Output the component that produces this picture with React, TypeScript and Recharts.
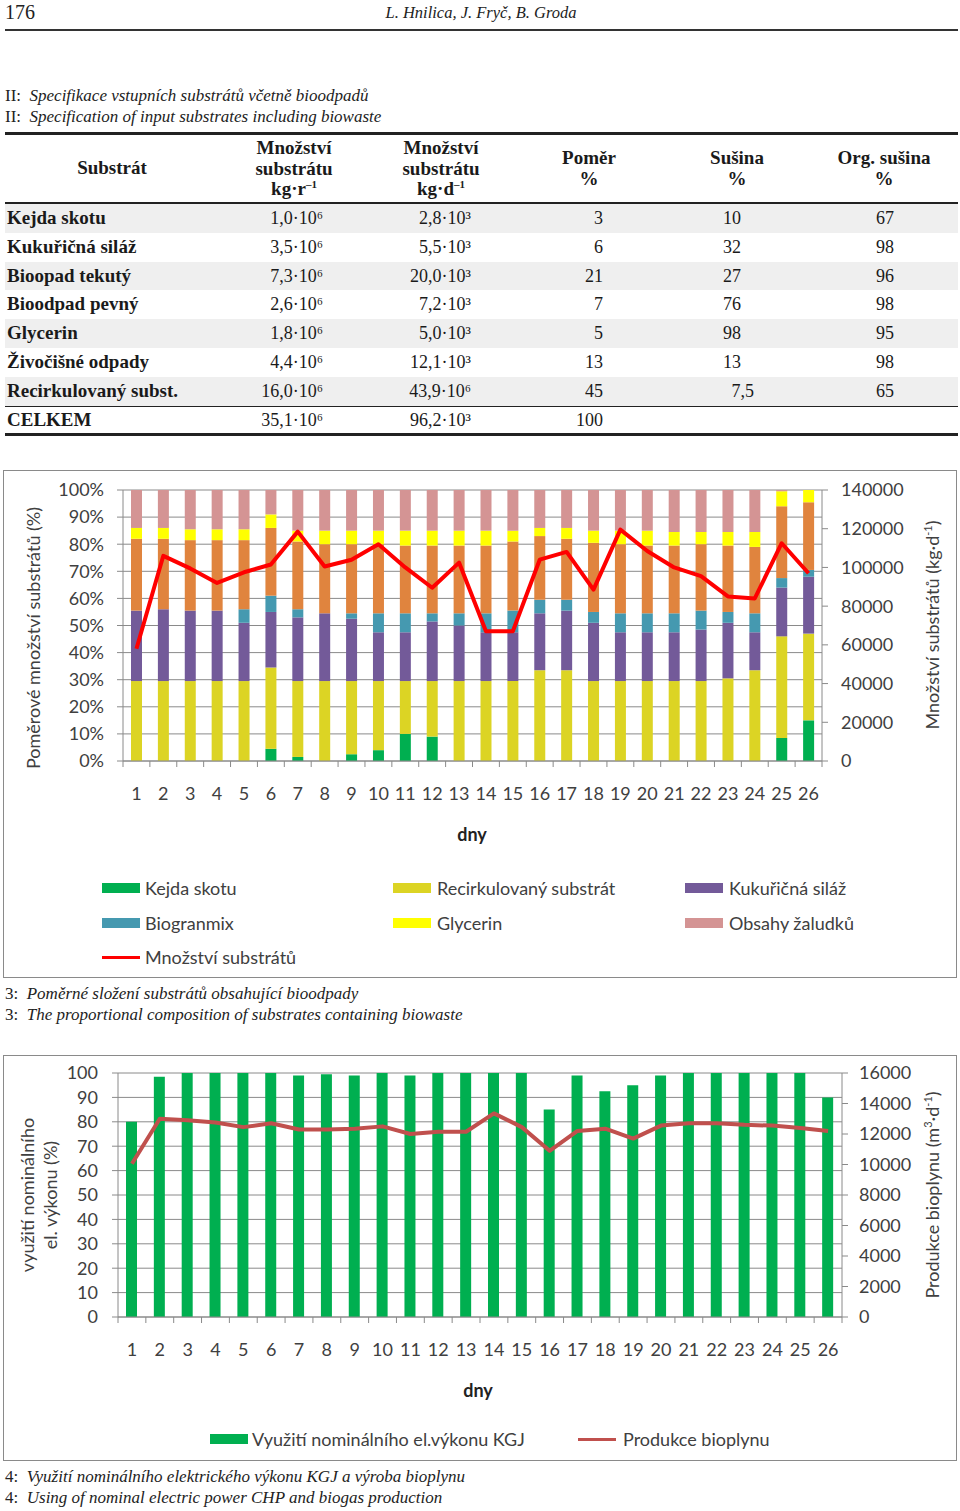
import React from 'react';
import { ComposedChart, Bar, Line, XAxis, YAxis, CartesianGrid } from 'recharts';

// ---------- Table data ----------
const substrateNames = ['Kejda skotu', 'Kukuřičná siláž', 'Bioopad tekutý', 'Bioodpad pevný', 'Glycerin', 'Živočišné odpady', 'Recirkulovaný subst.', 'CELKEM'];
const perYear = ['1,0·10⁶', '3,5·10⁶', '7,3·10⁶', '2,6·10⁶', '1,8·10⁶', '4,4·10⁶', '16,0·10⁶', '35,1·10⁶'];
const perDay = ['2,8·10³', '5,5·10³', '20,0·10³', '7,2·10³', '5,0·10³', '12,1·10³', '43,9·10⁶', '96,2·10³'];
const ratioPct = ['3', '6', '21', '7', '5', '13', '45', '100'];
const dryMatterPct = ['10', '32', '27', '76', '98', '13', '7,5', ''];
const orgDryPct = ['67', '98', '96', '98', '95', '98', '65', ''];

// ---------- Chart 1 data ----------
const days = ['1', '2', '3', '4', '5', '6', '7', '8', '9', '10', '11', '12', '13', '14', '15', '16', '17', '18', '19', '20', '21', '22', '23', '24', '25', '26'];
const kejdaSkotu = [0, 0, 0, 0, 0, 4.5, 1.5, 0, 2.5, 4, 10, 9, 0, 0, 0, 0, 0, 0, 0, 0, 0, 0, 0, 0, 8.5, 15];
const recirkulovany = [29.5, 29.5, 29.5, 29.5, 29.5, 30, 28, 29.5, 27, 25.5, 19.5, 20.5, 29.5, 29.5, 29.5, 33.5, 33.5, 29.5, 29.5, 29.5, 29.5, 29.5, 30.5, 33.5, 37.5, 32];
const kukuricnaSilaz = [26, 26.5, 26, 26, 21.5, 20.5, 23.5, 25, 23, 18, 18, 22, 20.5, 18, 18, 21, 22, 21.5, 18, 18, 18, 19, 20.5, 14, 18, 21];
const biogranmix = [0, 0, 0, 0, 5, 6, 3, 0, 2, 7, 7, 3, 4.5, 7, 8, 5, 4, 4, 7, 7, 7, 7, 4, 7, 3.5, 2.5];
const bioodpadTekuty = [26.5, 26, 26, 26, 25.5, 25, 25, 25.5, 25.5, 25.5, 25, 25, 25, 25, 25.5, 23.5, 22.5, 25.5, 25.5, 25, 25, 24.5, 24.5, 24.5, 26.5, 25];
const glycerin = [4, 4, 4, 4, 4, 5, 4, 5, 5, 5, 5.5, 5.5, 5.5, 5.5, 4, 3, 4, 4.5, 5, 5.5, 5, 4.5, 5, 5.5, 5.5, 4.5];
const obsahyZaludku = [14, 14, 14.5, 14.5, 14.5, 9, 15, 15, 15, 15, 15, 15, 15, 15, 15, 14, 14, 15, 15, 15, 15.5, 15.5, 15.5, 15.5, 0.5, 0];
const mnozstviSubstratu = [58000, 106000, 99500, 92000, 97500, 101500, 118500, 100500, 104000, 112000, 100000, 89500, 102500, 67000, 67000, 104000, 108000, 88500, 119500, 108500, 100000, 95500, 85000, 84000, 112500, 97000];
const pctTicks = [0, 10, 20, 30, 40, 50, 60, 70, 80, 90, 100];
const amountTicks = [0, 20000, 40000, 60000, 80000, 100000, 120000, 140000];

// ---------- Chart 2 data ----------
const vyuzitiKGJ = [80, 98.5, 100, 100, 100, 100, 99, 99.5, 99, 100, 99, 100, 100, 100, 100, 85, 99, 92.5, 95, 99, 100, 100, 100, 100, 100, 90];
const produkceBioplynu = [10050, 13000, 12900, 12750, 12450, 12700, 12300, 12300, 12350, 12500, 12000, 12150, 12150, 13350, 12450, 10900, 12200, 12350, 11700, 12550, 12700, 12700, 12600, 12550, 12400, 12200];
const useTicks = [0, 10, 20, 30, 40, 50, 60, 70, 80, 90, 100];
const biogasTicks = [0, 2000, 4000, 6000, 8000, 10000, 12000, 14000, 16000];

const SERIF = "'Liberation Serif', 'DejaVu Serif', serif";
const SANS = "Lato, 'Open Sans', sans-serif";
const AXIS = '#8a8a8a';
const TXT = '#404040';

const C_GREEN = '#00AF50';
const C_RECIRK = '#DCD424';
const C_PURPLE = '#735A99';
const C_TEAL = '#4599B0';
const C_ORANGE = '#E0843E';
const C_YELLOW = '#FFFF00';
const C_PINK = '#D49494';
const C_RED = '#FF0000';
const C_BROWN = '#C0504D';

const chart1Data = days.map((d, i) => ({
  day: d,
  kejda: kejdaSkotu[i],
  recirk: recirkulovany[i],
  kukur: kukuricnaSilaz[i],
  biogran: biogranmix[i],
  bioodpad: bioodpadTekuty[i],
  glycerin: glycerin[i],
  obsahy: obsahyZaludku[i],
  amount: mnozstviSubstratu[i],
}));

const chart2Data = days.map((d, i) => ({
  day: d,
  vyuziti: vyuzitiKGJ[i],
  bioplyn: produkceBioplynu[i],
}));

const makeTick = (bw: number, n: number) => (props: any) => {
  const { x, y, payload, index } = props;
  return (
    <g>
      <line x1={x - bw / 2} x2={x - bw / 2} y1={y} y2={y + 6} stroke={AXIS} />
      {index === n - 1 && <line x1={x + bw / 2} x2={x + bw / 2} y1={y} y2={y + 6} stroke={AXIS} />}
      <text x={x} y={y + 32} textAnchor="middle" dominantBaseline="central" fill={TXT} fontSize={18} fontFamily={SANS}>
        {payload.value}
      </text>
    </g>
  );
};

const tickStyle = { fill: TXT, fontSize: 18, fontFamily: SANS };

const Abs: React.FC<{ left: number; top: number; style?: React.CSSProperties; children?: React.ReactNode }> = ({ left, top, style, children }) => (
  <div style={{ position: 'absolute', left, top, whiteSpace: 'nowrap', ...style }}>{children}</div>
);

const Rot: React.FC<{ cx: number; cy: number; children?: React.ReactNode }> = ({ cx, cy, children }) => (
  <div
    style={{
      position: 'absolute',
      left: cx,
      top: cy,
      transform: 'translate(-50%, -50%) rotate(-90deg)',
      whiteSpace: 'nowrap',
      fontFamily: SANS,
      fontSize: 18,
      color: TXT,
      lineHeight: '20px',
    }}
  >
    {children}
  </div>
);

const HLine: React.FC<{ top: number; h: number }> = ({ top, h }) => (
  <div style={{ position: 'absolute', left: 5, width: 953, top, height: h, background: '#222' }} />
);

const supS: React.CSSProperties = { fontSize: 11, lineHeight: 0 };

const Table: React.FC = () => {
  const rowTop = 204;
  const rowH = 28.8;
  const cell: React.CSSProperties = { position: 'absolute', fontFamily: SERIF, fontSize: 18, color: '#1a1a1a', lineHeight: `${rowH}px`, whiteSpace: 'nowrap' };
  const hdr: React.CSSProperties = { position: 'absolute', fontFamily: SERIF, fontSize: 19, fontWeight: 700, color: '#1a1a1a', textAlign: 'center', lineHeight: '20.5px', transform: 'translateX(-50%)', whiteSpace: 'nowrap' };
  return (
    <>
      {substrateNames.map((_, i) =>
        i % 2 === 0 && i < 7 ? (
          <div key={'bg' + i} style={{ position: 'absolute', left: 5, width: 953, top: rowTop + i * rowH, height: rowH, background: '#efefef' }} />
        ) : null
      )}
      <HLine top={132} h={2.5} />
      <HLine top={202} h={1.5} />
      <HLine top={405.5} h={1.2} />
      <HLine top={433} h={2.5} />
      <div style={{ ...hdr, left: 112, top: 158 }}>Substrát</div>
      <div style={{ ...hdr, left: 294, top: 138 }}>Množství<br />substrátu<br />kg·r<sup style={supS}>–1</sup></div>
      <div style={{ ...hdr, left: 441, top: 138 }}>Množství<br />substrátu<br />kg·d<sup style={supS}>–1</sup></div>
      <div style={{ ...hdr, left: 589, top: 148 }}>Poměr<br />%</div>
      <div style={{ ...hdr, left: 737, top: 148 }}>Sušina<br />%</div>
      <div style={{ ...hdr, left: 884, top: 148 }}>Org. sušina<br />%</div>
      {substrateNames.map((name, i) => {
        const top = rowTop + i * rowH;
        return (
          <React.Fragment key={name}>
            <div style={{ ...cell, left: 7, top, fontWeight: 700, fontSize: 19 }}>{name}</div>
            <div style={{ ...cell, right: 960 - 323, top }}>{perYear[i]}</div>
            <div style={{ ...cell, right: 960 - 471, top }}>{perDay[i]}</div>
            <div style={{ ...cell, right: 960 - 603, top }}>{ratioPct[i]}</div>
            <div style={{ ...cell, right: 960 - (dryMatterPct[i].includes(',') ? 754 : 741), top }}>{dryMatterPct[i]}</div>
            <div style={{ ...cell, right: 960 - 894, top }}>{orgDryPct[i]}</div>
          </React.Fragment>
        );
      })}
    </>
  );
};

const Chart1: React.FC = () => {
  const W = 954, H = 508;
  const bw = 699 / 26;
  return (
    <div style={{ position: 'absolute', left: 3, top: 470, width: W, height: H, border: `1px solid ${AXIS}`, boxSizing: 'border-box', background: '#fff' }}>
      <div style={{ position: 'absolute', left: -1, top: -1 }}>
        <ComposedChart width={W} height={H} data={chart1Data} margin={{ top: 20, right: 55, bottom: 177, left: 60 }}>
          <CartesianGrid vertical={false} stroke={AXIS} yAxisId="left" />
          <XAxis dataKey="day" interval={0} tickLine={false} tickSize={0} tickMargin={0} height={40} axisLine={{ stroke: AXIS }} tick={makeTick(bw, days.length)} />
          <YAxis yAxisId="left" width={60} domain={[0, 100]} ticks={pctTicks} interval={0} tickFormatter={(v: number) => `${v}%`} axisLine={{ stroke: AXIS }} tickLine={{ stroke: AXIS }} tickSize={6} tickMargin={13} tick={tickStyle} allowDataOverflow />
          <YAxis yAxisId="right" orientation="right" width={80} domain={[0, 140000]} ticks={amountTicks} interval={0} axisLine={{ stroke: AXIS }} tickLine={{ stroke: AXIS }} tickSize={6} tickMargin={13} tick={{ ...tickStyle, textAnchor: 'start' }} allowDataOverflow />
          <Bar yAxisId="left" dataKey="kejda" stackId="s" fill={C_GREEN} barSize={11} isAnimationActive={false} />
          <Bar yAxisId="left" dataKey="recirk" stackId="s" fill={C_RECIRK} barSize={11} isAnimationActive={false} />
          <Bar yAxisId="left" dataKey="kukur" stackId="s" fill={C_PURPLE} barSize={11} isAnimationActive={false} />
          <Bar yAxisId="left" dataKey="biogran" stackId="s" fill={C_TEAL} barSize={11} isAnimationActive={false} />
          <Bar yAxisId="left" dataKey="bioodpad" stackId="s" fill={C_ORANGE} barSize={11} isAnimationActive={false} />
          <Bar yAxisId="left" dataKey="glycerin" stackId="s" fill={C_YELLOW} barSize={11} isAnimationActive={false} />
          <Bar yAxisId="left" dataKey="obsahy" stackId="s" fill={C_PINK} barSize={11} isAnimationActive={false} />
          <Line yAxisId="right" type="linear" dataKey="amount" stroke={C_RED} strokeWidth={4} dot={false} strokeLinejoin="round" isAnimationActive={false} />
        </ComposedChart>
      </div>
    </div>
  );
};

const Chart2: React.FC = () => {
  const W = 954, H = 406;
  const bw = 724 / 26;
  return (
    <div style={{ position: 'absolute', left: 3, top: 1055, width: W, height: H, border: `1px solid ${AXIS}`, boxSizing: 'border-box', background: '#fff' }}>
      <div style={{ position: 'absolute', left: -1, top: -1 }}>
        <ComposedChart width={W} height={H} data={chart2Data} margin={{ top: 18, right: 35, bottom: 104, left: 55 }}>
          <CartesianGrid vertical={false} stroke={AXIS} yAxisId="left" />
          <XAxis dataKey="day" interval={0} tickLine={false} tickSize={0} tickMargin={0} height={40} axisLine={{ stroke: AXIS }} tick={makeTick(bw, days.length)} />
          <YAxis yAxisId="left" width={60} domain={[0, 100]} ticks={useTicks} interval={0} axisLine={{ stroke: AXIS }} tickLine={{ stroke: AXIS }} tickSize={6} tickMargin={14} tick={tickStyle} allowDataOverflow />
          <YAxis yAxisId="right" orientation="right" width={80} domain={[0, 16000]} ticks={biogasTicks} interval={0} axisLine={{ stroke: AXIS }} tickLine={{ stroke: AXIS }} tickSize={6} tickMargin={11} tick={{ ...tickStyle, textAnchor: 'start' }} allowDataOverflow />
          <Bar yAxisId="left" dataKey="vyuziti" fill={C_GREEN} barSize={11} isAnimationActive={false} />
          <Line yAxisId="right" type="linear" dataKey="bioplyn" stroke={C_BROWN} strokeWidth={4} dot={false} strokeLinejoin="round" isAnimationActive={false} />
        </ComposedChart>
      </div>
    </div>
  );
};

const LegendSwatch: React.FC<{ left: number; cy: number; color: string; line?: boolean }> = ({ left, cy, color, line }) => (
  <div style={{ position: 'absolute', left, top: line ? cy - 1.5 : cy - 5, width: 38, height: line ? 3 : 10, background: color }} />
);

const LegendText: React.FC<{ left: number; cy: number; children?: React.ReactNode }> = ({ left, cy, children }) => (
  <div style={{ position: 'absolute', left, top: cy - 11, lineHeight: '22px', fontFamily: SANS, fontSize: 18, color: TXT, whiteSpace: 'nowrap' }}>{children}</div>
);

const capStyle: React.CSSProperties = { fontFamily: SERIF, fontSize: 17, color: '#222', lineHeight: '21px' };

export default function App() {
  return (
    <div style={{ position: 'absolute', left: 0, top: 0, width: 960, height: 1511, background: '#fff', fontFamily: SERIF, overflow: 'hidden' }}>
      {/* page header */}
      <Abs left={5} top={1} style={{ fontSize: 20, color: '#222', lineHeight: '22px' }}>176</Abs>
      <Abs left={481} top={2} style={{ fontSize: 16.5, fontStyle: 'italic', color: '#222', transform: 'translateX(-50%)', lineHeight: '22px' }}>
        L. Hnilica, J. Fryč, B. Groda
      </Abs>
      <div style={{ position: 'absolute', left: 5, top: 29, width: 953, height: 1.5, background: '#333' }} />

      {/* table caption */}
      <Abs left={5} top={85} style={capStyle}>
        II:&nbsp; <i>Specifikace vstupních substrátů včetně bioodpadů</i>
      </Abs>
      <Abs left={5} top={106} style={capStyle}>
        II:&nbsp; <i>Specification of input substrates including biowaste</i>
      </Abs>

      <Table />

      {/* chart 1 */}
      <Chart1 />
      <Rot cx={33} cy={638}>Poměrové množství substrátů (%)</Rot>
      <Rot cx={932} cy={625}>
        Množství substrátů (kg·d<sup style={supS}>-1</sup>)
      </Rot>
      <Abs left={472} top={823} style={{ fontFamily: SANS, fontSize: 18, fontWeight: 700, color: '#222', transform: 'translateX(-50%)', lineHeight: '22px' }}>dny</Abs>
      <LegendSwatch left={102} cy={888} color={C_GREEN} />
      <LegendText left={145} cy={888}>Kejda skotu</LegendText>
      <LegendSwatch left={393} cy={888} color={C_RECIRK} />
      <LegendText left={437} cy={888}>Recirkulovaný substrát</LegendText>
      <LegendSwatch left={685} cy={888} color={C_PURPLE} />
      <LegendText left={729} cy={888}>Kukuřičná siláž</LegendText>
      <LegendSwatch left={102} cy={923} color={C_TEAL} />
      <LegendText left={145} cy={923}>Biogranmix</LegendText>
      <LegendSwatch left={393} cy={923} color={C_YELLOW} />
      <LegendText left={437} cy={923}>Glycerin</LegendText>
      <LegendSwatch left={685} cy={923} color={C_PINK} />
      <LegendText left={729} cy={923}>Obsahy žaludků</LegendText>
      <LegendSwatch left={102} cy={957} color={C_RED} line />
      <LegendText left={145} cy={957}>Množství substrátů</LegendText>

      {/* chart 1 caption */}
      <Abs left={5} top={983} style={capStyle}>
        3:&nbsp; <i>Poměrné složení substrátů obsahující bioodpady</i>
      </Abs>
      <Abs left={5} top={1004} style={capStyle}>
        3:&nbsp; <i>The proportional composition of substrates containing biowaste</i>
      </Abs>

      {/* chart 2 */}
      <Chart2 />
      <Rot cx={27} cy={1195}>využití nominálního</Rot>
      <Rot cx={50} cy={1195}>el. výkonu (%)</Rot>
      <Rot cx={932} cy={1195}>
        Produkce bioplynu (m<sup style={supS}>3</sup>·d<sup style={supS}>-1</sup>)
      </Rot>
      <Abs left={478} top={1379} style={{ fontFamily: SANS, fontSize: 18, fontWeight: 700, color: '#222', transform: 'translateX(-50%)', lineHeight: '22px' }}>dny</Abs>
      <LegendSwatch left={210} cy={1439} color={C_GREEN} />
      <LegendText left={252} cy={1439}>Využití nominálního el.výkonu KGJ</LegendText>
      <LegendSwatch left={578} cy={1439} color={C_BROWN} line />
      <LegendText left={623} cy={1439}>Produkce bioplynu</LegendText>

      {/* chart 2 caption */}
      <Abs left={5} top={1466} style={capStyle}>
        4:&nbsp; <i>Využití nominálního elektrického výkonu KGJ a výroba bioplynu</i>
      </Abs>
      <Abs left={5} top={1487} style={capStyle}>
        4:&nbsp; <i>Using of nominal electric power CHP and biogas production</i>
      </Abs>
    </div>
  );
}
